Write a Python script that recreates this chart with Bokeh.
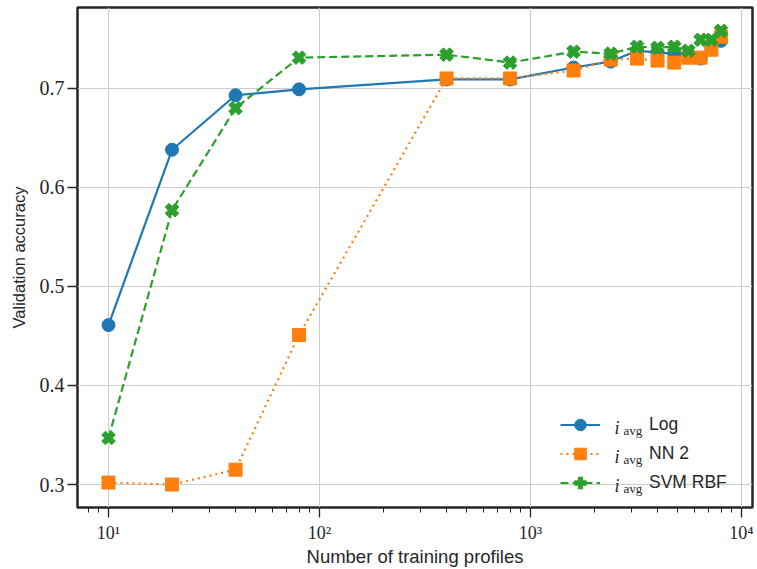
import numpy as np
from bokeh.plotting import figure
from bokeh.models import FixedTicker, Label, Range1d
from bokeh.embed import file_html
from bokeh.resources import INLINE

# ---- data ----
n_profiles = [10, 20, 40, 80, 400, 800, 1600, 2400, 3200, 4000, 4800, 5600, 6400, 7200, 8000]
acc_log = [0.461, 0.638, 0.693, 0.699, 0.709, 0.709, 0.721, 0.727, 0.738, 0.736, 0.735, 0.735, 0.730, 0.741, 0.748]
acc_nn2 = [0.302, 0.300, 0.315, 0.451, 0.710, 0.710, 0.718, 0.729, 0.730, 0.728, 0.726, 0.731, 0.731, 0.739, 0.752]
acc_svm = [0.347, 0.577, 0.680, 0.731, 0.734, 0.726, 0.737, 0.735, 0.742, 0.741, 0.742, 0.738, 0.749, 0.749, 0.758]
series_names = ["Log", "NN 2", "SVM RBF"]
x_major_ticks = [10, 100, 1000, 10000]
x_tick_labels = ["10\u00b9", "10\u00b2", "10\u00b3", "10\u2074"]
y_ticks = [0.3, 0.4, 0.5, 0.6, 0.7]
y_tick_labels = ["0.3", "0.4", "0.5", "0.6", "0.7"]
x_label = "Number of training profiles"
y_label = "Validation accuracy"

# ---- geometry helpers (page pixels of the reference -> data) ----
def px_to_x(px):
    return 10 ** (1 + (px - 108) / 211.0)

def py_to_y(py):
    return 0.7 - (py - 88) / 992.5

DARK = "#262626"
SANS = "Liberation Sans"
SERIF = "Liberation Serif"

p = figure(width=757, height=569, x_axis_type="log",
           x_range=Range1d(px_to_x(77), px_to_x(752)),
           y_range=Range1d(py_to_y(508), py_to_y(7)),
           output_backend="svg", toolbar_location=None,
           min_border_left=77, min_border_right=5, min_border_top=7, min_border_bottom=61)

p.background_fill_color = "white"
p.border_fill_color = "white"
p.outline_line_color = DARK
p.outline_line_width = 2.5

minor_x = [8, 9] + [k * d for d in [10, 100, 1000] for k in range(2, 10)]

p.xaxis.ticker = FixedTicker(ticks=x_major_ticks, minor_ticks=minor_x)
p.xaxis.major_label_overrides = {t: l for t, l in zip(x_major_ticks, x_tick_labels)}
p.yaxis.ticker = FixedTicker(ticks=y_ticks, minor_ticks=[])
p.yaxis.major_label_overrides = {t: l for t, l in zip(y_ticks, y_tick_labels)}

for ax in (p.xaxis, p.yaxis):
    ax.axis_line_color = None
    ax.major_tick_line_color = DARK
    ax.major_tick_line_width = 1.3
    ax.major_tick_in = 0
    ax.major_tick_out = 10
    ax.minor_tick_line_color = DARK
    ax.minor_tick_line_width = 1.0
    ax.minor_tick_in = 0
    ax.minor_tick_out = 5
    ax.major_label_text_font = SERIF
    ax.major_label_text_color = DARK
    ax.axis_label_text_font = SANS
    ax.axis_label_text_font_style = "normal"
    ax.axis_label_text_color = DARK

p.xaxis.major_label_text_font_size = "18px"
p.yaxis.major_label_text_font_size = "20px"
p.xaxis.axis_label_text_font_size = "18.5px"
p.yaxis.axis_label_text_font_size = "16.5px"
p.yaxis.minor_tick_line_color = None
p.xaxis.axis_label = x_label
p.yaxis.axis_label = y_label
p.xaxis.major_label_standoff = 5
p.xaxis.axis_label_standoff = 0
p.yaxis.major_label_standoff = 3
p.yaxis.axis_label_standoff = 9

p.xgrid.grid_line_color = "#cccccc"
p.ygrid.grid_line_color = "#cccccc"
p.xgrid.grid_line_width = 1.1
p.ygrid.grid_line_width = 1.1

# ---- series ----
C_BLUE, C_ORANGE, C_GREEN = "#1f77b4", "#ff7f0e", "#2ca02c"

p.line(n_profiles, acc_log, line_color=C_BLUE, line_width=2.2, legend_label=series_names[0])
p.scatter(n_profiles, acc_log, marker="circle", size=13, fill_color=C_BLUE, line_color=C_BLUE,
          legend_label=series_names[0])

p.line(n_profiles, acc_nn2, line_color=C_ORANGE, line_width=2.2, line_dash="2 4",
       legend_label=series_names[1])
p.scatter(n_profiles, acc_nn2, marker="square", size=13, fill_color=C_ORANGE, line_color=C_ORANGE,
          legend_label=series_names[1])

p.line(n_profiles, acc_svm, line_color=C_GREEN, line_width=2.2, line_dash="8 4",
       legend_label=series_names[2])
p.scatter(n_profiles, acc_svm, marker="plus", size=14, angle=np.pi / 4, fill_color=C_GREEN,
          line_color=C_GREEN, legend_label=series_names[2])

lg = p.legend[0]
lg.location = (483, 10)
lg.padding = 0
lg.margin = 0
lg.spacing = 0
lg.glyph_width = 40
lg.glyph_height = 29
lg.label_height = 29
lg.label_standoff = 49
lg.label_text_font = SANS
lg.label_text_font_size = "17.5px"
lg.label_text_color = DARK
lg.border_line_color = None
lg.background_fill_alpha = 0

# subscripted "i_avg" prefixes of the legend labels
for row in range(3):
    base = 428.5 + 29 * row
    p.add_layout(Label(x=px_to_x(614), y=py_to_y(base), text="i", text_font=SERIF,
                       text_font_style="italic", text_font_size="18px", text_color=DARK,
                       text_baseline="alphabetic", text_align="left"))
    p.add_layout(Label(x=px_to_x(623), y=py_to_y(base + 2.5), text="avg", text_font=SERIF,
                       text_font_size="13px", text_color=DARK,
                       text_baseline="alphabetic", text_align="left"))

open("out.html", "w").write(file_html(p, INLINE))
